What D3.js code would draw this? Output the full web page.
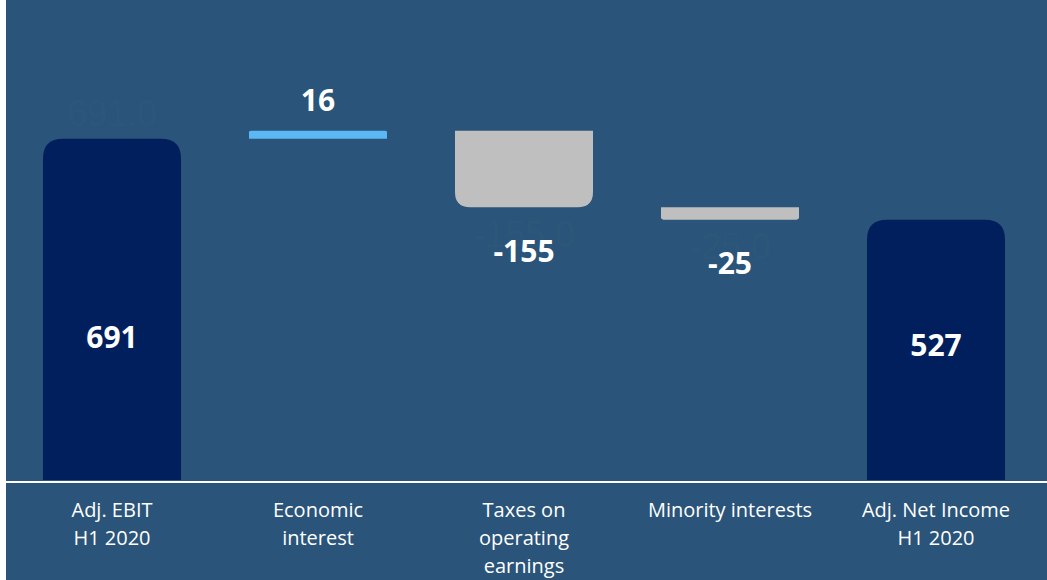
<!DOCTYPE html>
<html>
<head>
<meta charset="utf-8">
<script src="https://cdn.jsdelivr.net/npm/d3@7"></script>
<style>
  html, body { margin: 0; padding: 0; background: #ffffff; }
  svg { display: block; }
</style>
</head>
<body>
<svg id="chart" width="1047" height="580"></svg>
<script>
// ---- data ----
const categories = ["Adj. EBIT H1 2020", "Economic interest", "Taxes on operating earnings", "Minority interests", "Adj. Net Income H1 2020"];
const categoryLines = [["Adj. EBIT", "H1 2020"], ["Economic", "interest"], ["Taxes on", "operating", "earnings"], ["Minority interests"], ["Adj. Net Income", "H1 2020"]];
const values = [691, 16, -155, -25, 527];
const kinds = ["total", "delta", "delta", "delta", "total"];
const valueLabels = ["691", "16", "-155", "-25", "527"];
const ghostLabels = ["691,0", "", "-155,0", "-25,0", ""];

// ---- layout ----
const W = 1047, H = 580;
const svg = d3.select("#chart");
const colors = { bg: "#2a5479", total: "#001f5c", up: "#5bb8f5", down: "#bfbfbf" };

svg.append("rect").attr("x", 6).attr("y", 0).attr("width", W - 6).attr("height", H).attr("fill", colors.bg);

const x = d3.scaleBand().domain(categories).range([9, 1039]).paddingInner(0.33).paddingOuter(0.165);
const baseY = 480;
const y = d3.scaleLinear().domain([0, 700]).range([baseY, baseY - 700 * 0.494]);

// compute waterfall start/end
let running = 0;
const bars = categories.map((c, i) => {
  let start, end;
  if (kinds[i] === "total") { start = 0; end = values[i]; running = values[i]; }
  else { start = running; end = running + values[i]; running = end; }
  return { cat: c, i, start, end, v: values[i], kind: kinds[i] };
});

function roundedPath(x0, y0, w, h, r, top) {
  r = Math.min(r, h / 2, w / 2);
  if (top) {
    return `M${x0},${y0 + h}V${y0 + r}Q${x0},${y0} ${x0 + r},${y0}H${x0 + w - r}Q${x0 + w},${y0} ${x0 + w},${y0 + r}V${y0 + h}Z`;
  } else {
    return `M${x0},${y0}H${x0 + w}V${y0 + h - r}Q${x0 + w},${y0 + h} ${x0 + w - r},${y0 + h}H${x0 + r}Q${x0},${y0 + h} ${x0},${y0 + h - r}Z`;
  }
}

// ghost labels (faint)
svg.append("g").selectAll("text").data(bars.filter(d => ghostLabels[d.i]))
  .join("text")
  .attr("x", d => x(d.cat) + x.bandwidth() / 2)
  .attr("y", d => d.v >= 0 ? y(d.end) - 25 : y(d.end) + 27)
  .attr("dy", "0.35em")
  .attr("text-anchor", "middle")
  .attr("font-family", "'Liberation Sans', Arial, sans-serif")
  .attr("font-size", 36)
  .attr("fill", "#2d5779")
  .text(d => ghostLabels[d.i]);

// bars
svg.append("g").selectAll("path").data(bars)
  .join("path")
  .attr("d", d => {
    const top = y(Math.max(d.start, d.end));
    const bot = y(Math.min(d.start, d.end));
    const h = bot - top;
    const r = Math.min(20, h * 0.2);
    return roundedPath(x(d.cat), top, x.bandwidth(), h, r, d.kind === "total" || d.v >= 0);
  })
  .attr("fill", d => d.kind === "total" ? colors.total : (d.v >= 0 ? colors.up : colors.down));

// baseline
svg.append("line").attr("x1", 6).attr("x2", W).attr("y1", baseY + 2).attr("y2", baseY + 2)
  .attr("stroke", "#ffffff").attr("stroke-width", 2);

// value labels
svg.append("g").selectAll("text").data(bars)
  .join("text")
  .attr("x", d => x(d.cat) + x.bandwidth() / 2)
  .attr("y", d => {
    if (d.kind === "total") return y(d.v * 0.1 + 220);
    return d.v >= 0 ? y(d.end) - 30 : y(d.end) + 44;
  })
  .attr("dy", "0.35em")
  .attr("text-anchor", "middle")
  .attr("font-family", "'Open Sans', sans-serif")
  .attr("font-weight", "bold")
  .attr("font-size", 30)
  .attr("fill", "#ffffff")
  .text(d => valueLabels[d.i]);

// category labels
const xAxis = svg.append("g");
categories.forEach((c, i) => {
  const t = xAxis.append("text")
    .attr("x", x(c) + x.bandwidth() / 2)
    .attr("y", 517)
    .attr("text-anchor", "middle")
    .attr("font-family", "'Open Sans', sans-serif")
    .attr("font-size", 20)
    .attr("fill", "#ffffff");
  categoryLines[i].forEach((line, j) => {
    t.append("tspan").attr("x", x(c) + x.bandwidth() / 2).attr("dy", j === 0 ? 0 : 28).text(line);
  });
});
</script>
</body>
</html>
